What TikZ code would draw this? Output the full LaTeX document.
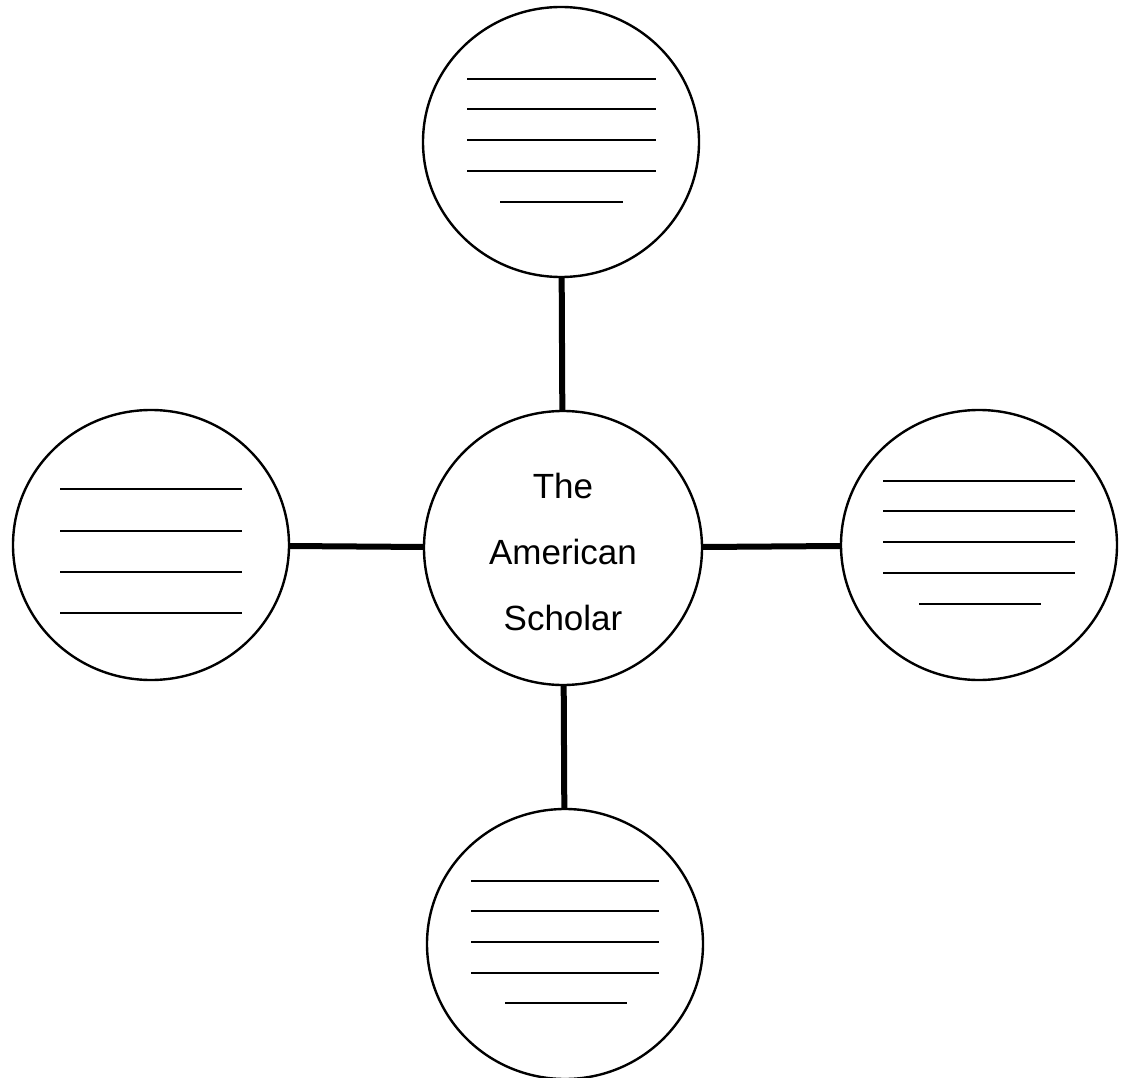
\documentclass[tikz,border=0pt]{standalone}
\usepackage{fontspec}
\setmainfont{Liberation Sans}
\usetikzlibrary{shapes.geometric}
\begin{document}
\begin{tikzpicture}[x=1pt,y=-1pt,
  bubble/.style={draw, ellipse, line width=2.4pt, minimum width=276pt, minimum height=270pt, inner sep=0pt},
  hub/.style={draw, ellipse, line width=2.4pt, minimum width=278pt, minimum height=274pt, inner sep=0pt},
  hubtext/.style={align=center, font=\fontsize{35}{66}\selectfont},
  conn/.style={line width=6pt},
  blank/.style={line width=2pt}]
\useasboundingbox (0,0) rectangle (1122,1078);
\node[hub] (center) at (563,548) {};
\node[hubtext] (label) at (563,552) {The\\American\\Scholar};
\node[bubble] (top) at (561,142) {};
\node[bubble] (left) at (151,545) {};
\node[bubble] (right) at (979,545) {};
\node[bubble] (bottom) at (565,944) {};
\draw[conn] (top) -- (center);
\draw[conn] (left) -- (center);
\draw[conn] (right) -- (center);
\draw[conn] (bottom) -- (center);
% blank writing lines
\foreach \y in {79,109,140,171} \draw[blank] (467,\y) -- (656,\y);
\draw[blank] (500,202) -- (623,202);
\foreach \y in {489,531,572,613} \draw[blank] (60,\y) -- (242,\y);
\foreach \y in {481,511,542,573} \draw[blank] (883,\y) -- (1075,\y);
\draw[blank] (919,604) -- (1041,604);
\foreach \y in {881,911,942,973} \draw[blank] (471,\y) -- (659,\y);
\draw[blank] (505,1003) -- (627,1003);
\end{tikzpicture}
\end{document}
